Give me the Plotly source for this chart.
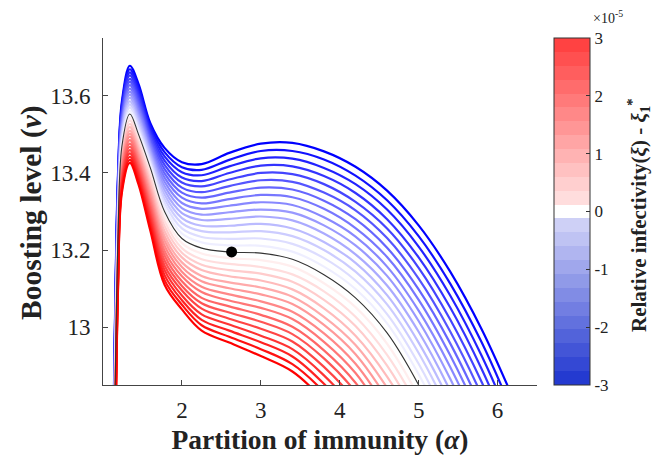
import plotly.graph_objects as go

# ---- data ----
ALPHA = [1.10, 1.15, 1.19, 1.24, 1.34, 1.45, 1.60, 1.78, 2.00, 2.25,
         2.60, 3.00, 3.40, 3.80, 4.20, 4.60, 5.00, 5.40, 5.80, 6.20]

XI_LEVELS = [-3.0, -2.8, -2.6, -2.4, -2.2, -2.0, -1.8, -1.6, -1.4, -1.2, -1.0,
             -0.8, -0.6, -0.4, -0.2, 0.0, 0.2, 0.4, 0.6, 0.8, 1.0, 1.2, 1.4,
             1.6, 1.8, 2.0, 2.2, 2.4, 2.6, 2.8, 3.0]

NU = [
    [12.305, 12.995, 13.395, 13.586, 13.678, 13.631, 13.529, 13.465, 13.428, 13.423, 13.452, 13.476, 13.478, 13.456, 13.416, 13.354, 13.264, 13.144, 12.994, 12.814],
    [12.298, 12.982, 13.384, 13.578, 13.669, 13.622, 13.521, 13.454, 13.415, 13.408, 13.434, 13.457, 13.457, 13.435, 13.393, 13.329, 13.236, 13.113, 12.960, 12.776],
    [12.291, 12.969, 13.373, 13.570, 13.661, 13.613, 13.513, 13.443, 13.402, 13.394, 13.417, 13.438, 13.437, 13.413, 13.371, 13.305, 13.209, 13.082, 12.925, 12.739],
    [12.284, 12.956, 13.362, 13.562, 13.653, 13.604, 13.505, 13.432, 13.388, 13.379, 13.400, 13.419, 13.417, 13.392, 13.348, 13.280, 13.181, 13.051, 12.891, 12.701],
    [12.277, 12.943, 13.351, 13.555, 13.644, 13.596, 13.498, 13.421, 13.375, 13.365, 13.383, 13.400, 13.397, 13.371, 13.325, 13.256, 13.154, 13.020, 12.857, 12.664],
    [12.270, 12.930, 13.340, 13.547, 13.636, 13.587, 13.490, 13.410, 13.362, 13.350, 13.366, 13.381, 13.377, 13.349, 13.303, 13.231, 13.126, 12.989, 12.823, 12.626],
    [12.263, 12.917, 13.329, 13.539, 13.628, 13.578, 13.482, 13.399, 13.349, 13.336, 13.349, 13.362, 13.357, 13.328, 13.280, 13.206, 13.098, 12.958, 12.788, 12.588],
    [12.256, 12.904, 13.318, 13.532, 13.619, 13.570, 13.475, 13.388, 13.336, 13.321, 13.332, 13.343, 13.337, 13.307, 13.257, 13.182, 13.071, 12.927, 12.754, 12.551],
    [12.249, 12.891, 13.307, 13.524, 13.611, 13.561, 13.467, 13.377, 13.322, 13.307, 13.315, 13.324, 13.317, 13.285, 13.235, 13.157, 13.043, 12.897, 12.720, 12.513],
    [12.242, 12.878, 13.296, 13.516, 13.603, 13.552, 13.459, 13.366, 13.309, 13.292, 13.298, 13.305, 13.297, 13.264, 13.212, 13.133, 13.016, 12.866, 12.686, 12.476],
    [12.235, 12.865, 13.285, 13.509, 13.595, 13.544, 13.452, 13.355, 13.296, 13.278, 13.281, 13.287, 13.277, 13.243, 13.189, 13.108, 12.988, 12.835, 12.651, 12.438],
    [12.228, 12.852, 13.274, 13.501, 13.586, 13.535, 13.444, 13.344, 13.283, 13.263, 13.263, 13.268, 13.256, 13.221, 13.167, 13.083, 12.960, 12.804, 12.617, 12.400],
    [12.221, 12.839, 13.263, 13.493, 13.578, 13.526, 13.436, 13.333, 13.270, 13.249, 13.246, 13.249, 13.236, 13.200, 13.144, 13.059, 12.933, 12.773, 12.583, 12.363],
    [12.214, 12.826, 13.252, 13.485, 13.570, 13.517, 13.428, 13.322, 13.256, 13.234, 13.229, 13.230, 13.216, 13.179, 13.121, 13.034, 12.905, 12.742, 12.549, 12.325],
    [12.207, 12.813, 13.241, 13.478, 13.561, 13.509, 13.421, 13.311, 13.243, 13.220, 13.212, 13.211, 13.196, 13.157, 13.099, 13.010, 12.878, 12.711, 12.514, 12.288],
    [12.200, 12.800, 13.230, 13.470, 13.553, 13.500, 13.413, 13.300, 13.230, 13.205, 13.195, 13.192, 13.176, 13.136, 13.076, 12.985, 12.850, 12.680, 12.480, 12.250],
    [12.193, 12.788, 13.221, 13.462, 13.544, 13.491, 13.402, 13.287, 13.218, 13.191, 13.179, 13.174, 13.157, 13.114, 13.052, 12.957, 12.820, 12.648, 12.448, 12.220],
    [12.186, 12.776, 13.212, 13.454, 13.536, 13.483, 13.391, 13.275, 13.205, 13.176, 13.164, 13.156, 13.137, 13.093, 13.027, 12.928, 12.790, 12.616, 12.416, 12.190],
    [12.179, 12.764, 13.203, 13.446, 13.527, 13.474, 13.380, 13.262, 13.193, 13.162, 13.148, 13.139, 13.118, 13.071, 13.003, 12.900, 12.760, 12.584, 12.384, 12.160],
    [12.172, 12.752, 13.194, 13.438, 13.519, 13.465, 13.369, 13.249, 13.181, 13.148, 13.132, 13.121, 13.098, 13.049, 12.978, 12.872, 12.730, 12.552, 12.352, 12.130],
    [12.165, 12.740, 13.185, 13.430, 13.510, 13.456, 13.358, 13.236, 13.168, 13.133, 13.116, 13.103, 13.079, 13.027, 12.954, 12.843, 12.700, 12.520, 12.320, 12.100],
    [12.158, 12.728, 13.176, 13.422, 13.502, 13.448, 13.348, 13.224, 13.156, 13.119, 13.101, 13.085, 13.060, 13.006, 12.930, 12.815, 12.670, 12.488, 12.288, 12.070],
    [12.151, 12.716, 13.167, 13.414, 13.494, 13.439, 13.337, 13.211, 13.144, 13.105, 13.085, 13.067, 13.040, 12.984, 12.905, 12.787, 12.640, 12.456, 12.256, 12.040],
    [12.144, 12.704, 13.158, 13.406, 13.485, 13.430, 13.326, 13.198, 13.132, 13.091, 13.069, 13.050, 13.021, 12.962, 12.881, 12.759, 12.610, 12.424, 12.224, 12.010],
    [12.137, 12.692, 13.149, 13.398, 13.476, 13.422, 13.315, 13.186, 13.119, 13.076, 13.054, 13.032, 13.001, 12.940, 12.856, 12.730, 12.580, 12.392, 12.192, 11.980],
    [12.130, 12.680, 13.140, 13.390, 13.468, 13.413, 13.304, 13.173, 13.107, 13.062, 13.038, 13.014, 12.982, 12.919, 12.832, 12.702, 12.550, 12.360, 12.160, 11.950],
    [12.123, 12.668, 13.131, 13.382, 13.459, 13.404, 13.293, 13.160, 13.095, 13.048, 13.022, 12.996, 12.963, 12.897, 12.808, 12.674, 12.520, 12.328, 12.128, 11.920],
    [12.116, 12.656, 13.122, 13.374, 13.451, 13.396, 13.282, 13.148, 13.082, 13.033, 13.007, 12.978, 12.943, 12.875, 12.783, 12.645, 12.490, 12.296, 12.096, 11.890],
    [12.109, 12.644, 13.113, 13.366, 13.442, 13.387, 13.271, 13.135, 13.070, 13.019, 12.991, 12.961, 12.924, 12.853, 12.759, 12.617, 12.460, 12.264, 12.064, 11.860],
    [12.102, 12.632, 13.104, 13.358, 13.434, 13.378, 13.260, 13.122, 13.058, 13.005, 12.975, 12.943, 12.904, 12.832, 12.734, 12.589, 12.430, 12.232, 12.032, 11.830],
    [12.095, 12.620, 13.095, 13.350, 13.426, 13.370, 13.250, 13.110, 13.046, 12.991, 12.960, 12.925, 12.885, 12.810, 12.710, 12.561, 12.400, 12.200, 12.000, 11.800],
]

DOT_ALPHA = [2.63]
DOT_NU = [13.195]

X_TICKS = [2, 3, 4, 5, 6]
Y_TICKS = [13.0, 13.2, 13.4, 13.6]
Y_TICK_TEXT = ["13", "13.2", "13.4", "13.6"]
CB_TICKS = [-3, -2, -1, 0, 1, 2, 3]
CB_TICK_TEXT = ["-3", "-2", "-1", "0", "1", "2", "3"]
XI_MAX = 3.0
N_BANDS = 25

SERIF = "Liberation Serif"

# plot-area geometry in pixels
PL, PR, PT, PB = 103, 537, 38, 385
PW, PH = PR - PL, PB - PT


def px_to_paper(px, py):
    return (px - PL) / PW, (PB - py) / PH


def curve_color(xi):
    t = abs(xi) / XI_MAX
    v = round(255 * (1 - t))
    if xi < 0:
        return f"rgb({v},{v},255)"
    return f"rgb(255,{v},{v})"


def band_color(j):
    d = j - (N_BANDS - 1) // 2
    if d == 0:
        return "rgb(255,255,255)"
    t = abs(d) / ((N_BANDS - 1) // 2)
    if d > 0:
        g = round(235 - t * (235 - 66))
        return f"rgb(255,{g},{g})"
    r = round(222 - t * (222 - 36))
    g = round(222 - t * (222 - 58))
    b = round(250 - t * (250 - 208))
    return f"rgb({r},{g},{b})"


fig = go.Figure()

for xi, nu in zip(XI_LEVELS, NU):
    if xi == 0:
        continue
    fig.add_trace(go.Scatter(
        x=ALPHA, y=nu, mode="lines",
        line=dict(color=curve_color(xi), width=2.2, shape="spline", smoothing=1.0),
        showlegend=False, hoverinfo="skip"))

for xi, nu in zip(XI_LEVELS, NU):
    if xi == 0:
        fig.add_trace(go.Scatter(
            x=ALPHA, y=nu, mode="lines",
            line=dict(color="#333333", width=1.1, shape="spline", smoothing=1.0),
            showlegend=False, hoverinfo="skip"))

fig.add_trace(go.Scatter(
    x=DOT_ALPHA, y=DOT_NU, mode="markers",
    marker=dict(color="black", size=11),
    showlegend=False, hoverinfo="skip"))

cs = []
for j in range(N_BANDS):
    c = band_color(j)
    cs.append([j / N_BANDS, c])
    cs.append([(j + 1) / N_BANDS, c])

cbx, _ = px_to_paper(554, 0)
fig.add_trace(go.Scatter(
    x=[None], y=[None], mode="markers",
    marker=dict(color=[0], cmin=-XI_MAX, cmax=XI_MAX, colorscale=cs, showscale=True,
                colorbar=dict(
                    thickness=36, thicknessmode="pixels",
                    len=PH, lenmode="pixels",
                    x=cbx, xanchor="left", xref="paper",
                    y=0.5, yanchor="middle", yref="paper",
                    outlinecolor="#333333", outlinewidth=1,
                    tickmode="array", tickvals=CB_TICKS, ticktext=CB_TICK_TEXT,
                    ticks="inside", ticklen=4, tickcolor="#333333",
                    tickfont=dict(family=SERIF, size=17, color="#222222"),
                    xpad=0, ypad=0)),
    showlegend=False, hoverinfo="skip"))

ex, ey = px_to_paper(608, 17)
tx, ty = px_to_paper(638, 215)
yx, yy = px_to_paper(31, 213)

fig.update_layout(
    width=654, height=464,
    margin=dict(l=PL, r=654 - PR, t=PT, b=464 - PB, autoexpand=False),
    paper_bgcolor="white", plot_bgcolor="white",
    font=dict(family=SERIF, color="#222222"),
    xaxis=dict(
        range=[1.0, 6.5], showgrid=False, zeroline=False,
        showline=True, linecolor="#444444", linewidth=1,
        ticks="inside", ticklen=5, tickcolor="#444444",
        tickvals=X_TICKS, tickfont=dict(family=SERIF, size=23, color="#222222"),
        ticklabelstandoff=4,
        title=dict(text="<b>Partition of immunity (<i>α</i>)</b>",
                   font=dict(family=SERIF, size=27.5, color="#222222"), standoff=8),
    ),
    yaxis=dict(
        range=[12.85, 13.75], showgrid=False, zeroline=False,
        showline=True, linecolor="#444444", linewidth=1,
        ticks="inside", ticklen=5, tickcolor="#444444",
        tickvals=Y_TICKS, ticktext=Y_TICK_TEXT,
        tickfont=dict(family=SERIF, size=23, color="#222222"),
        ticklabelstandoff=7,
    ),
    annotations=[
        dict(text="<b>Boosting level (<i>ν</i>)</b>", x=yx, y=yy, xref="paper", yref="paper",
             textangle=-90, xanchor="center", yanchor="middle", showarrow=False,
             font=dict(family=SERIF, size=29.5, color="#222222")),
        dict(text="×10<sup>-5</sup>", x=ex, y=ey, xref="paper", yref="paper",
             xanchor="center", yanchor="middle",
             showarrow=False, font=dict(family=SERIF, size=14, color="#222222")),
        dict(text="<b>Relative infectivity(<i>ξ</i>) - <i>ξ</i><sub>1</sub><sup>*</sup></b>",
             x=tx, y=ty, xref="paper", yref="paper", textangle=-90,
             xanchor="center", yanchor="middle",
             showarrow=False, font=dict(family=SERIF, size=21, color="#222222")),
    ],
)

fig.write_html("out.html")
